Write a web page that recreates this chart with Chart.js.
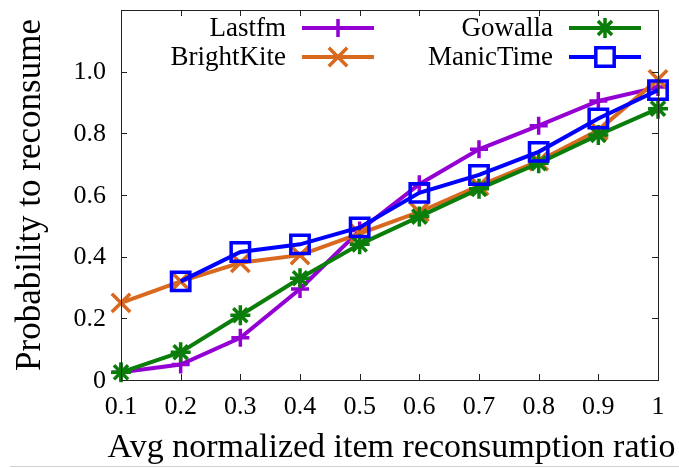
<!DOCTYPE html>
<html><head><meta charset="utf-8">
<script src="https://cdn.jsdelivr.net/npm/chart.js@4/dist/chart.umd.min.js"></script>
<style>html,body{margin:0;padding:0;background:#fff}#wrap{width:679px;height:468px}</style>
</head><body><div id="wrap"><canvas id="c" width="679" height="468"></canvas></div>
<script>
const categories = ['0.1','0.2','0.3','0.4','0.5','0.6','0.7','0.8','0.9','1'];
const lastfm     = [0.025, 0.05, 0.137, 0.295, 0.485, 0.635, 0.748, 0.825, 0.905, 0.95];
const brightkite = [0.25, 0.32, 0.38, 0.405, 0.475, 0.545, 0.63, 0.71, 0.81, 0.975];
const gowalla    = [0.025, 0.09, 0.21, 0.33, 0.44, 0.53, 0.62, 0.703, 0.795, 0.88];
const manictime  = [null, 0.32, 0.415, 0.44, 0.495, 0.607, 0.665, 0.74, 0.848, 0.94];
const seriesNames = ['Lastfm','BrightKite','Gowalla','ManicTime'];
const yTickValues = [0, 0.2, 0.4, 0.6, 0.8, 1.0];
const yTickLabels = ['0', '0.2', '0.4', '0.6', '0.8', '1.0'];
const xTitle = 'Avg normalized item reconsumption ratio';
const yTitle = 'Probability to reconsume';

const FONT = "'Liberation Serif', 'DejaVu Serif', serif";

function ds(label, data, color, style, radius, order) {
  return {label, data, borderColor: color, backgroundColor: color,
    pointStyle: style, pointRadius: radius, pointHoverRadius: radius,
    pointBorderColor: color, pointBackgroundColor: style === 'rect' ? 'rgba(0,0,0,0)' : color,
    pointBorderWidth: 3.5, borderWidth: 4, tension: 0, clip: false, order, spanGaps: false};
}

function drawMarker(ctx, style, r, x, y) {
  if (style === 'rect') {
    const s = Math.SQRT1_2 * r;
    ctx.beginPath(); ctx.rect(x - s, y - s, 2 * s, 2 * s); ctx.fillStyle = '#fff'; ctx.fill(); ctx.stroke();
  } else {
    ctx.beginPath();
    if (style === 'cross' || style === 'star') { ctx.moveTo(x, y - r); ctx.lineTo(x, y + r); ctx.moveTo(x - r, y); ctx.lineTo(x + r, y); }
    if (style === 'crossRot' || style === 'star') { const o = Math.SQRT1_2 * r; ctx.moveTo(x - o, y - o); ctx.lineTo(x + o, y + o); ctx.moveTo(x - o, y + o); ctx.lineTo(x + o, y - o); }
    ctx.stroke();
  }
}

const frameAndLegend = {
  id: 'frameAndLegend',
  afterDraw(chart) {
    const ctx = chart.ctx, a = chart.chartArea;
    const xs = chart.scales.x, ys = chart.scales.y;
    ctx.save();
    ctx.strokeStyle = '#222'; ctx.lineWidth = 1;
    ctx.strokeRect(Math.round(a.left)+0.5, Math.round(a.top)+0.5, Math.round(a.right-a.left), Math.round(a.bottom-a.top));
    const tl = 6;
    ctx.beginPath();
    xs.ticks.forEach((t, i) => {
      const px = Math.round(xs.getPixelForTick(i)) + 0.5;
      ctx.moveTo(px, a.bottom); ctx.lineTo(px, a.bottom - tl);
      ctx.moveTo(px, a.top); ctx.lineTo(px, a.top + tl);
    });
    ys.ticks.forEach(t => {
      const py = Math.round(ys.getPixelForValue(t.value)) + 0.5;
      ctx.moveTo(a.left, py); ctx.lineTo(a.left + tl, py);
      ctx.moveTo(a.right, py); ctx.lineTo(a.right - tl, py);
    });
    ctx.stroke();
    ctx.strokeStyle = '#d0d0d0'; ctx.lineWidth = 1;
    ctx.beginPath(); ctx.moveTo(10, chart.height - 1.5); ctx.lineTo(chart.width, chart.height - 1.5); ctx.stroke();
    // y tick labels
    ctx.fillStyle = '#000'; ctx.font = "26px " + FONT;
    ctx.textAlign = 'right'; ctx.textBaseline = 'middle';
    yTickValues.forEach((v, i) => ctx.fillText(yTickLabels[i], a.left - 15, ys.getPixelForValue(v) + 1));
    // x axis title (drawn without width squeeze, may extend past the plot)
    ctx.font = "34px " + FONT;
    ctx.textAlign = 'center'; ctx.textBaseline = 'alphabetic';
    ctx.fillText(xTitle, (a.left + a.right) / 2 + 2, 457);
    // legend (2 columns, column-major order)
    const colTextRight = [a.left + 165, a.left + 432];
    const rowY = [a.top + 18, a.top + 47];
    ctx.font = "27px " + FONT;
    ctx.textAlign = 'right'; ctx.textBaseline = 'middle';
    chart.data.datasets.forEach((d, i) => {
      const col = Math.floor(i / 2), row = i % 2;
      const tx = colTextRight[col], ty = rowY[row];
      ctx.fillStyle = '#000';
      ctx.fillText(d.label, tx, ty + 1);
      const x0 = tx + 16, x1 = tx + 88;
      ctx.strokeStyle = d.borderColor; ctx.lineWidth = d.borderWidth;
      ctx.beginPath(); ctx.moveTo(x0, ty); ctx.lineTo(x1, ty); ctx.stroke();
      ctx.strokeStyle = d.pointBorderColor; ctx.lineWidth = d.pointBorderWidth;
      drawMarker(ctx, d.pointStyle, d.pointRadius, (x0 + x1) / 2, ty);
    });
    ctx.restore();
  }
};

new Chart(document.getElementById('c'), {
  type: 'line',
  data: {
    labels: categories,
    datasets: [
      ds(seriesNames[0], lastfm, '#9400d3', 'cross', 9, 4),
      ds(seriesNames[1], brightkite, '#d8691e', 'crossRot', 13, 3),
      ds(seriesNames[2], gowalla, '#0b7d0b', 'star', 10, 2),
      ds(seriesNames[3], manictime, '#0000ff', 'rect', 13, 1)
    ]
  },
  options: {
    responsive: false, animation: false,
    layout: {autoPadding: false, padding: {top: 10, right: 21, left: 0, bottom: 0}},
    plugins: {legend: {display: false}, tooltip: {enabled: false}},
    scales: {
      x: {
        type: 'category', offset: false,
        grid: {display: false, drawTicks: false},
        border: {display: false},
        ticks: {color: '#000', font: {family: FONT, size: 26}, padding: 12, maxRotation: 0, autoSkip: false},
        title: {display: false},
        afterFit(s) { s.height = 88; s.paddingLeft = 0; s.paddingRight = 0; }
      },
      y: {
        min: 0, max: 1.2,
        afterBuildTicks(s) { s.ticks = yTickValues.concat([1.2]).map(v => ({value: v})); },
        grid: {display: false, drawTicks: false},
        border: {display: false},
        ticks: {display: false},
        title: {display: true, text: yTitle, color: '#000', font: {family: FONT, size: 35}, padding: {top: 10, bottom: 0}},
        afterFit(s) { s.width = 121; s.paddingTop = 0; s.paddingBottom = 0; }
      }
    }
  },
  plugins: [frameAndLegend]
});
</script></body></html>
